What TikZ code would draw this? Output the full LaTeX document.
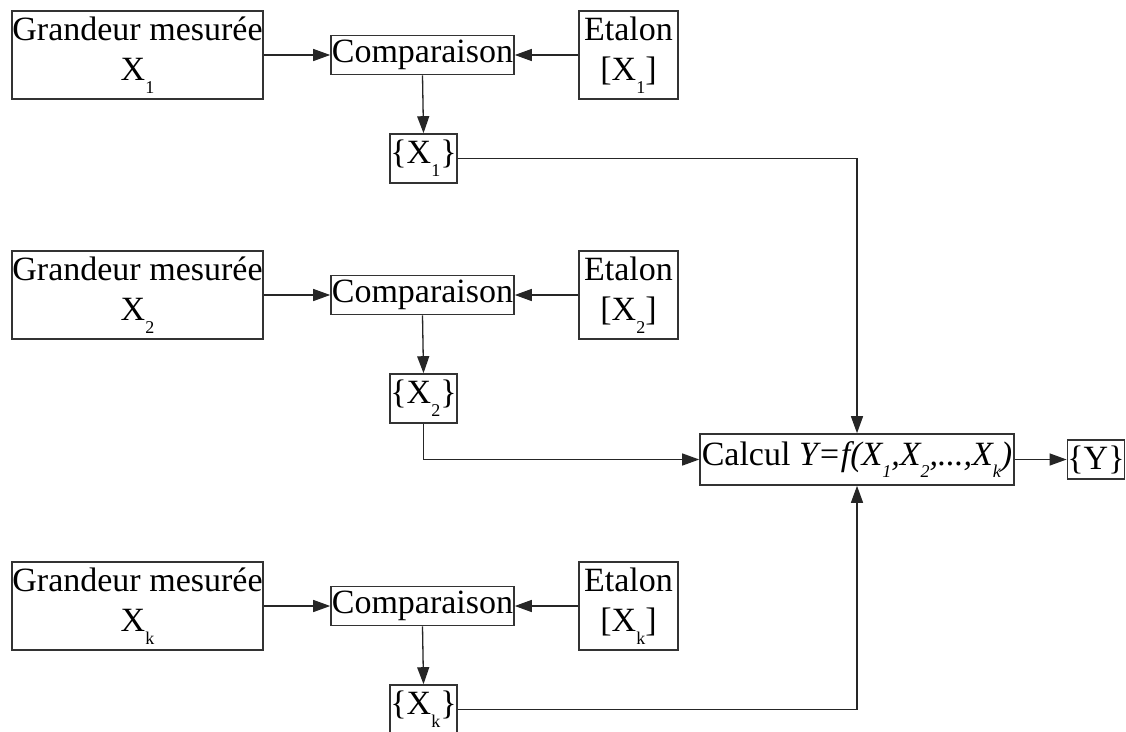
\documentclass[tikz,border=0pt]{standalone}
\usepackage{fontspec}
\setmainfont{Liberation Serif}
\usetikzlibrary{arrows.meta}
\newcommand\lowsub[1]{\raisebox{-0.38em}{\fontsize{18}{18}\selectfont #1}}
\begin{document}
\begin{tikzpicture}[x=1pt,y=-1pt,
  box/.style={draw=black!80, line width=1.6pt, inner sep=0pt, align=center,
    font=\fontsize{34}{40}\selectfont},
  bigbox/.style={box, minimum width=251pt, minimum height=88pt},
  etbox/.style={box, minimum width=99pt, minimum height=88pt},
  cmpbox/.style={box, minimum width=183pt, minimum height=39pt},
  valbox/.style={box, minimum width=67pt, minimum height=49pt},
  conn/.style={line width=1.3pt, black!85},
  arr/.style={conn, -{Triangle[length=17pt,width=12pt]}}
]
\clip (0,0) rectangle (1126,731);
\fill[white] (0,0) rectangle (1126,731);

% row 1
\node[bigbox] (G1) at (137.5,55) {Grandeur mesurée\\X\lowsub{1}};
\node[cmpbox] (C1) at (422.5,55) {Comparaison};
\node[etbox]  (E1) at (628.5,55) {Etalon\\{[}X\lowsub{1}{]}};
\node[valbox] (V1) at (423.5,158.5) {\{X\lowsub{1}\}};

% row 2
\node[bigbox] (G2) at (137.5,295) {Grandeur mesurée\\X\lowsub{2}};
\node[cmpbox] (C2) at (422.5,295) {Comparaison};
\node[etbox]  (E2) at (628.5,295) {Etalon\\{[}X\lowsub{2}{]}};
\node[valbox] (V2) at (423.5,398.5) {\{X\lowsub{2}\}};

% row k
\node[bigbox] (Gk) at (137.5,606) {Grandeur mesurée\\X\lowsub{k}};
\node[cmpbox] (Ck) at (422.5,606) {Comparaison};
\node[etbox]  (Ek) at (628.5,606) {Etalon\\{[}X\lowsub{k}{]}};
\node[valbox] (Vk) at (423.5,709.5) {\{X\lowsub{k}\}};

% calcul
\node[box, minimum width=314pt, minimum height=51pt] (Calc) at (857,459.5)
  {Calcul \textit{Y=f(X\lowsub{1},X\lowsub{2},...,X\lowsub{k})}};
\node[box, minimum width=56pt, minimum height=39pt] (Y) at (1096,459.5) {\{Y\}};

% connectors
\foreach \r in {1,2,k}{
  \draw[arr] (G\r.east) -- (C\r.west);
  \draw[arr] (E\r.west) -- (C\r.east);
  \draw[arr] (C\r.south) -- (V\r.north);
}
\draw[arr] (V1.east) -| (Calc.north);
\draw[arr] (V2.south) |- (Calc.west);
\draw[arr] (Vk.east) -| (Calc.south);
\draw[arr] (Calc.east) -- (Y.west);
\end{tikzpicture}
\end{document}
